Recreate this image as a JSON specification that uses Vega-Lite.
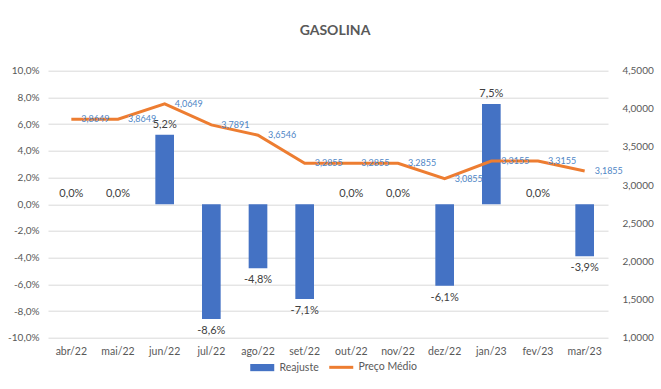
{
  "$schema": "https://vega.github.io/schema/vega-lite/v6.json",
  "width": 560,
  "height": 267,
  "autosize": {"type": "none"},
  "padding": {"left": 48, "top": 70.7, "right": 53, "bottom": 51.3},
  "background": "white",
  "config": {
    "locale": {"number": {"decimal": ",", "thousands": ".", "grouping": [3], "currency": ["R$", ""], "minus": "-"}},
    "font": "Lato",
    "view": {"stroke": null},
    "axis": {"labelColor": "#595959", "labelFontSize": 10, "domain": false, "ticks": false, "gridColor": "#d9d9d9", "title": null, "labelOverlap": false},
    "axisQuantitative": {"labelOverlap": false},
    "axisY": {"labelOverlap": false}
  },
  "title": {"text": "GASOLINA", "fontSize": 14, "fontWeight": "bold", "color": "#595959", "anchor": "middle", "offset": 28, "dx": 7},
  "data": {
    "values": [
      {"mes": "abr/22", "reajuste": 0.0, "preco": 3.8649},
      {"mes": "mai/22", "reajuste": 0.0, "preco": 3.8649},
      {"mes": "jun/22", "reajuste": 0.052, "preco": 4.0649},
      {"mes": "jul/22", "reajuste": -0.086, "preco": 3.7891},
      {"mes": "ago/22", "reajuste": -0.048, "preco": 3.6546},
      {"mes": "set/22", "reajuste": -0.071, "preco": 3.2855},
      {"mes": "out/22", "reajuste": 0.0, "preco": 3.2855},
      {"mes": "nov/22", "reajuste": 0.0, "preco": 3.2855},
      {"mes": "dez/22", "reajuste": -0.061, "preco": 3.0855},
      {"mes": "jan/23", "reajuste": 0.075, "preco": 3.3155},
      {"mes": "fev/23", "reajuste": 0.0, "preco": 3.3155},
      {"mes": "mar/23", "reajuste": -0.039, "preco": 3.1855}
    ]
  },
  "encoding": {
    "x": {
      "field": "mes", "type": "ordinal", "sort": null,
      "scale": {"paddingInner": 0.6, "paddingOuter": 0.3},
      "axis": {"labelAngle": 0, "labelPadding": 9, "labelFontSize": 10.5}
    }
  },
  "layer": [
    {
      "layer": [
        {
          "mark": {"type": "bar"},
          "encoding": {
            "y": {
              "field": "reajuste", "type": "quantitative",
              "scale": {"domain": [-0.1, 0.1], "nice": false},
              "axis": {"format": ".1%", "tickCount": 10, "grid": true, "labelPadding": 9, "labelOverlap": false, "labelFlush": false}
            },
            "color": {
              "datum": "Reajuste",
              "scale": {"domain": ["Reajuste", "Preço Médio"], "range": ["#4472c4", "#ed7d31"]},
              "legend": {
                "title": null, "orient": "none", "legendX": 209, "legendY": 291, "direction": "horizontal",
                "labelFontSize": 10.5, "labelColor": "#595959", "symbolSize": 576,
                "columnPadding": 4, "labelOffset": 12,
                "encode": {
                  "symbols": {
                    "update": {
                      "shape": {"signal": "datum.value === 'Reajuste' ? 'M-1,-0.3H1V0.3H-1Z' : 'M-1,0H1'"},
                      "fill": {"signal": "datum.value === 'Reajuste' ? '#4472c4' : 'transparent'"},
                      "stroke": {"signal": "datum.value === 'Reajuste' ? '#4472c4' : '#ed7d31'"},
                      "strokeWidth": {"signal": "datum.value === 'Reajuste' ? 0 : 3"}
                    }
                  }
                }
              }
            }
          }
        },
        {
          "mark": {"type": "rule", "color": "#bfbfbf", "strokeWidth": 1},
          "encoding": {"y": {"datum": 0}}
        },
        {
          "transform": [{"filter": "datum.reajuste >= 0"}],
          "mark": {"type": "text", "baseline": "bottom", "dy": -5, "fontSize": 11, "color": "#404040"},
          "encoding": {
            "y": {"field": "reajuste", "type": "quantitative"},
            "text": {"field": "reajuste", "type": "quantitative", "format": ".1%"}
          }
        },
        {
          "transform": [{"filter": "datum.reajuste < 0"}],
          "mark": {"type": "text", "baseline": "top", "dy": 6, "fontSize": 11, "color": "#404040"},
          "encoding": {
            "y": {"field": "reajuste", "type": "quantitative"},
            "text": {"field": "reajuste", "type": "quantitative", "format": ".1%"}
          }
        }
      ]
    },
    {
      "layer": [
        {
          "mark": {"type": "line", "strokeWidth": 3},
          "encoding": {
            "y": {
              "field": "preco", "type": "quantitative",
              "scale": {"domain": [1, 4.5], "nice": false},
              "axis": {"orient": "right", "format": ".4f", "tickCount": 7, "grid": false, "labelPadding": 14, "labelOverlap": false, "labelFlush": false}
            },
            "color": {"datum": "Preço Médio"}
          }
        },
        {
          "mark": {"type": "text", "align": "left", "baseline": "middle", "dx": 10, "fontSize": 9, "color": "#4f86c6"},
          "encoding": {
            "y": {"field": "preco", "type": "quantitative"},
            "text": {"field": "preco", "type": "quantitative", "format": ".4f"}
          }
        }
      ]
    }
  ],
  "resolve": {"scale": {"y": "independent"}}
}
